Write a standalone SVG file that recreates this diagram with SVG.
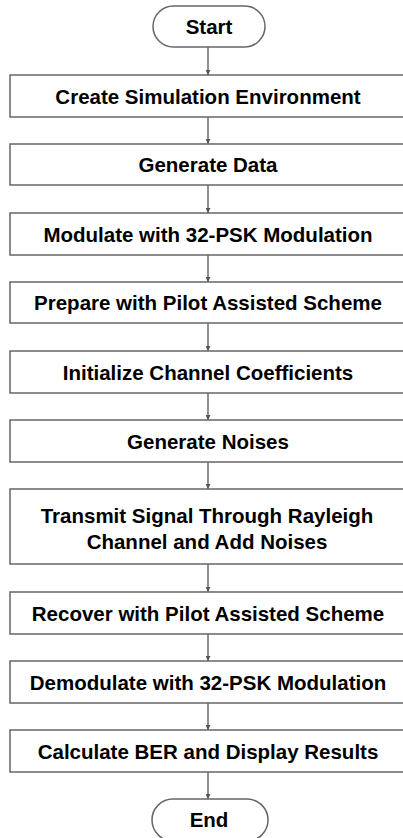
<svg xmlns="http://www.w3.org/2000/svg" width="403" height="838" viewBox="0 0 403 838">
<defs>
<style>
.n{fill:#fff;stroke:#666;stroke-width:1.5}
.t{font-family:"Liberation Sans",Arial,sans-serif;font-weight:bold;font-size:20.5px;fill:#000;text-anchor:middle}
.c{stroke:#555;stroke-width:1.3;fill:none;marker-end:url(#a)}
</style>
<marker id="a" viewBox="0 0 6 6" refX="6" refY="3" markerWidth="5" markerHeight="5" markerUnits="userSpaceOnUse" orient="auto"><path d="M0,0L6,3L0,6Z" fill="#555"/></marker>
</defs>
<g id="connectors">
<line class="c" x1="208" y1="47" x2="208" y2="75"/>
<line class="c" x1="208" y1="117" x2="208" y2="144"/>
<line class="c" x1="208" y1="185" x2="208" y2="213"/>
<line class="c" x1="208" y1="255" x2="208" y2="282"/>
<line class="c" x1="208" y1="323" x2="208" y2="351"/>
<line class="c" x1="208" y1="393" x2="208" y2="420"/>
<line class="c" x1="208" y1="462" x2="208" y2="489"/>
<line class="c" x1="208" y1="564" x2="208" y2="592"/>
<line class="c" x1="208" y1="634" x2="208" y2="661"/>
<line class="c" x1="208" y1="703" x2="208" y2="730"/>
<line class="c" x1="208" y1="772" x2="208" y2="799"/>
</g>
<g id="start"><rect class="n" x="153" y="6" width="112" height="41" rx="20.5"/><text class="t" x="209" y="34">Start</text></g>
<g id="n1"><rect class="n" x="10" y="75" width="396" height="42"/><text class="t" x="208" y="103.5">Create Simulation Environment</text></g>
<g id="n2"><rect class="n" x="10" y="144" width="396" height="41"/><text class="t" x="208" y="172">Generate Data</text></g>
<g id="n3"><rect class="n" x="10" y="213" width="396" height="42"/><text class="t" x="208" y="241.5">Modulate with 32-PSK Modulation</text></g>
<g id="n4"><rect class="n" x="10" y="282" width="396" height="41"/><text class="t" x="208" y="310">Prepare with Pilot Assisted Scheme</text></g>
<g id="n5"><rect class="n" x="10" y="351" width="396" height="42"/><text class="t" x="208" y="379.5">Initialize Channel Coefficients</text></g>
<g id="n6"><rect class="n" x="10" y="420" width="396" height="42"/><text class="t" x="208" y="448.5">Generate Noises</text></g>
<g id="n7"><rect class="n" x="10" y="489" width="396" height="75"/><text class="t" x="207" y="523">Transmit Signal Through Rayleigh</text><text class="t" x="207" y="549">Channel and Add Noises</text></g>
<g id="n8"><rect class="n" x="10" y="592" width="396" height="42"/><text class="t" x="208" y="620.5">Recover with Pilot Assisted Scheme</text></g>
<g id="n9"><rect class="n" x="10" y="661" width="396" height="42"/><text class="t" x="208" y="689.5">Demodulate with 32-PSK Modulation</text></g>
<g id="n10"><rect class="n" x="10" y="730" width="396" height="42"/><text class="t" x="208" y="758.5">Calculate BER and Display Results</text></g>
<g id="end"><rect class="n" x="152" y="799" width="116" height="42" rx="21"/><text class="t" x="209" y="827">End</text></g>
</svg>
